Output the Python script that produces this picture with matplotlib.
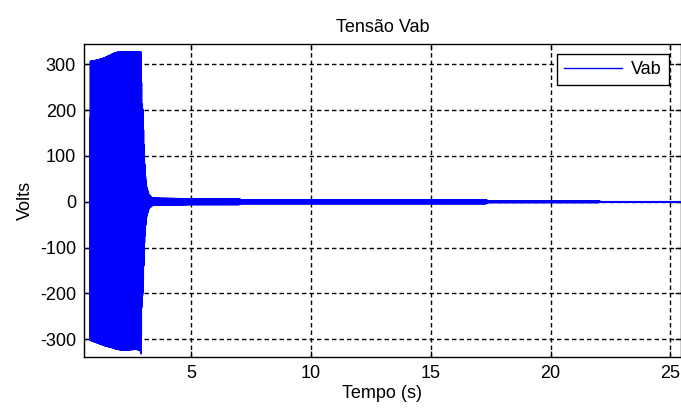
import numpy as np
import matplotlib
matplotlib.use("Agg")
import matplotlib.pyplot as plt

plt.rcParams['font.family'] = ['Liberation Sans', 'DejaVu Sans']
plt.rcParams['axes.unicode_minus'] = False

# envoltória da tensão Vab (s, V)
t_env = [0.79, 1.1, 1.4, 1.75, 1.9, 2.2, 2.7, 2.88, 2.92, 2.95, 3.0, 3.05,
         3.1, 3.15, 3.25, 3.4, 5.0, 7.0, 7.1, 12.0, 17.3, 17.4, 22.0, 22.1, 25.4]
v_sup = [310, 313, 318, 327, 330, 331, 331, 331, 331, 218, 200, 102,
         58, 33, 15, 8, 6.5, 6.5, 4.5, 4.5, 4.5, 2, 2, 0.3, 0.3]
v_inf = [-306, -312, -318, -323, -326, -328, -326, -328, -338, -218, -200, -102,
         -58, -33, -15, -8, -6.5, -6.5, -4.5, -4.5, -4.5, -2, -2, -0.3, -0.3]
f_rede = 60.0  # Hz

t = np.arange(t_env[0], t_env[-1], 1.0 / (f_rede * 16))
sup = np.interp(t, t_env, v_sup)
inf = np.interp(t, t_env, v_inf)
s = np.sin(2 * np.pi * f_rede * t)
vab = np.where(s >= 0, sup * s, -inf * s)

fig = plt.figure(figsize=(6.81, 4.09), dpi=100)
ax = fig.add_axes([0.1238, 0.1279, 0.8755, 0.7645])
ax.plot(t, vab, color='#0000ff', lw=1.0, label='Vab')

ax.set_xlim(0.55, 25.42)
ax.set_ylim(-338, 344)
ax.set_xticks([5, 10, 15, 20, 25])
ax.set_yticks([-300, -200, -100, 0, 100, 200, 300])
ax.grid(True, color='black', ls=(0, (3.2, 2.2)), lw=1.0)
ax.tick_params(direction='in', length=4.5, width=0.9, top=True, right=True,
               labelsize=13, pad=6)
for sp in ax.spines.values():
    sp.set_linewidth(1.0)

ax.set_title('Tensão Vab', fontsize=13, pad=9)
ax.set_xlabel('Tempo (s)', fontsize=13, labelpad=2)
ax.set_ylabel('Volts', fontsize=13, labelpad=4)

leg = ax.legend(loc='upper right', bbox_to_anchor=(0.9807, 0.968),
                borderaxespad=0, fancybox=False, framealpha=1,
                edgecolor='black', fontsize=13, handlelength=3.2,
                borderpad=0.4, handletextpad=0.5)
leg.get_frame().set_linewidth(1.0)

fig.savefig('out.png', dpi=100)
